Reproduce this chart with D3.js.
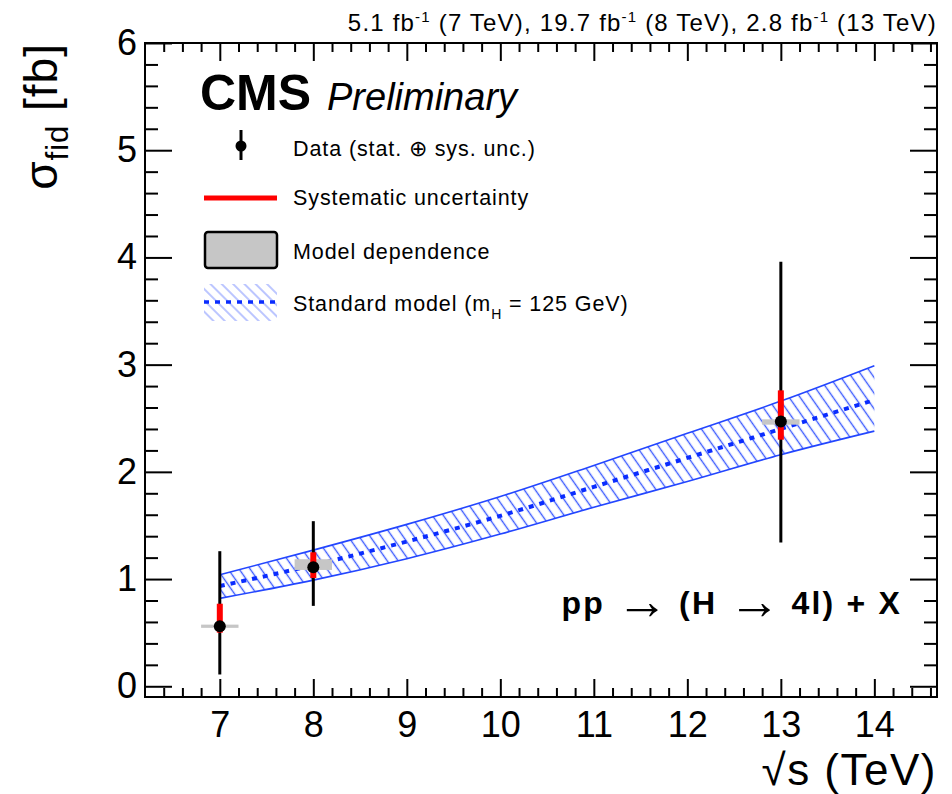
<!DOCTYPE html>
<html><head><meta charset="utf-8">
<script src="https://cdn.jsdelivr.net/npm/d3@7"></script>
<style>body{margin:0;background:#fff}svg{display:block;font-family:"Liberation Sans",Arial,Helvetica,sans-serif}</style>
</head><body><svg id="c" width="952" height="794"></svg>
<script>
// ---- data ----
const energies = [7, 8, 13];
const xsec     = [0.56, 1.11, 2.47];
const totHi    = [0.70, 0.43, 1.49];
const totLo    = [0.45, 0.36, 1.13];
const sysHi    = [0.21, 0.14, 0.29];
const sysLo    = [0.06, 0.10, 0.17];
const modelLo  = [0.545, 1.085, 2.44];
const modelHi  = [0.575, 1.185, 2.49];
const smEnergy  = [7, 8, 9, 10, 11, 12, 13, 14];
const smCentral = [0.935, 1.13, 1.35, 1.59, 1.86, 2.13, 2.40, 2.67];
const smLow     = [0.82, 0.99, 1.19, 1.42, 1.67, 1.91, 2.16, 2.38];
const smHigh    = [1.04, 1.27, 1.51, 1.77, 2.06, 2.36, 2.66, 2.99];
const xTicks = [7, 8, 9, 10, 11, 12, 13, 14];
const yTicks = [0, 1, 2, 3, 4, 5, 6];
const legendLabels = ["Data (stat. \u2295 sys. unc.)", "Systematic uncertainty", "Model dependence", "Standard model (m", "H", " = 125 GeV)"];
const lumiText = ["5.1 fb", "-1", " (7 TeV), 19.7 fb", "-1", " (8 TeV), 2.8 fb", "-1", " (13 TeV)"];
const processParts = ["pp ", "\u2192", " (H ", "\u2192", " 4l) + X"];

// ---- layout ----
const L = 145, R = 937, T = 43, B = 697;
const svg = d3.select("#c");
const x = d3.scaleLinear().domain([6.2, 14.67]).range([L, R]);
const y = d3.scaleLinear().domain([-0.1, 6.0]).range([B, T]);
const modelHalf = 0.2;

const defs = svg.append("defs");
const pat = defs.append("pattern").attr("id", "hatch").attr("patternUnits", "userSpaceOnUse")
  .attr("width", 9).attr("height", 9).attr("patternTransform", "rotate(-35)");
pat.append("line").attr("x1", 4.5).attr("x2", 4.5).attr("y1", 0).attr("y2", 9)
  .attr("stroke", "#3d5cff").attr("stroke-width", 1.4);
const pat2 = defs.append("pattern").attr("id", "hatchL").attr("patternUnits", "userSpaceOnUse")
  .attr("width", 8).attr("height", 8).attr("patternTransform", "rotate(-45)");
pat2.append("line").attr("x1", 4).attr("x2", 4).attr("y1", 0).attr("y2", 8)
  .attr("stroke", "#8fa0ff").attr("stroke-width", 1.2);

// ---- SM band ----
const sm = smEnergy.map((e, i) => ({e, c: smCentral[i], lo: smLow[i], hi: smHigh[i]}));
const curve = d3.curveMonotoneX;
svg.append("path").datum(sm)
  .attr("d", d3.area().x(d => x(d.e)).y0(d => y(d.lo)).y1(d => y(d.hi)).curve(curve))
  .attr("fill", "url(#hatch)");
["lo", "hi"].forEach(k => {
  svg.append("path").datum(sm)
    .attr("d", d3.line().x(d => x(d.e)).y(d => y(d[k])).curve(curve))
    .attr("fill", "none").attr("stroke", "#2346ff").attr("stroke-width", 1.6);
});
svg.append("path").datum(sm)
  .attr("d", d3.line().x(d => x(d.e)).y(d => y(d.c)).curve(curve))
  .attr("fill", "none").attr("stroke", "#0a2cff").attr("stroke-width", 4)
  .attr("stroke-dasharray", "5,6");

// ---- data points ----
const pts = energies.map((e, i) => ({e, v: xsec[i], th: totHi[i], tl: totLo[i], sh: sysHi[i], sl: sysLo[i], ml: modelLo[i], mh: modelHi[i]}));
svg.selectAll(".model").data(pts).enter().append("rect")
  .attr("x", d => x(d.e - modelHalf)).attr("width", d => x(d.e + modelHalf) - x(d.e - modelHalf))
  .attr("y", d => y(d.mh)).attr("height", d => Math.max(3, y(d.ml) - y(d.mh)))
  .attr("fill", "#c6c6c6");
svg.selectAll(".tot").data(pts).enter().append("line")
  .attr("x1", d => x(d.e)).attr("x2", d => x(d.e))
  .attr("y1", d => y(d.v + d.th)).attr("y2", d => y(d.v - d.tl))
  .attr("stroke", "#000").attr("stroke-width", 3);
svg.selectAll(".sys").data(pts).enter().append("line")
  .attr("x1", d => x(d.e)).attr("x2", d => x(d.e))
  .attr("y1", d => y(d.v + d.sh)).attr("y2", d => y(d.v - d.sl))
  .attr("stroke", "#ff0000").attr("stroke-width", 6);
svg.selectAll(".pt").data(pts).enter().append("circle")
  .attr("cx", d => x(d.e)).attr("cy", d => y(d.v)).attr("r", 6).attr("fill", "#000");

// ---- frame & ticks ----
const minorX = d3.range(6.4, 14.67, 0.2).map(v => +v.toFixed(1)).filter(v => Math.abs(v - Math.round(v)) > 1e-6);
const minorY = d3.range(0.2, 6, 0.2).map(v => +v.toFixed(1)).filter(v => Math.abs(v - Math.round(v)) > 1e-6);
const tickStyle = g => { g.select(".domain").remove(); g.selectAll(".tick line").attr("stroke", "#000").attr("stroke-width", 2); };

svg.append("g").attr("transform", `translate(0,${B})`)
  .call(d3.axisBottom(x).tickValues(xTicks).tickSize(-18).tickPadding(14).tickFormat(d3.format("d")))
  .call(tickStyle)
  .call(g => g.selectAll("text").attr("font-size", 36).attr("fill", "#000").attr("font-family", "Liberation Sans"));
svg.append("g").attr("transform", `translate(0,${B})`)
  .call(d3.axisBottom(x).tickValues(minorX).tickSize(-9).tickFormat("")).call(tickStyle);
svg.append("g").attr("transform", `translate(0,${T})`)
  .call(d3.axisTop(x).tickValues(xTicks).tickSize(-18).tickFormat("")).call(tickStyle);
svg.append("g").attr("transform", `translate(0,${T})`)
  .call(d3.axisTop(x).tickValues(minorX).tickSize(-9).tickFormat("")).call(tickStyle);

svg.append("g").attr("transform", `translate(${L},0)`)
  .call(d3.axisLeft(y).tickValues(yTicks).tickSize(-27).tickPadding(8).tickFormat(d3.format("d")))
  .call(tickStyle)
  .call(g => g.selectAll("text").attr("font-size", 36).attr("fill", "#000").attr("font-family", "Liberation Sans"));
svg.append("g").attr("transform", `translate(${L},0)`)
  .call(d3.axisLeft(y).tickValues(minorY).tickSize(-13).tickFormat("")).call(tickStyle);
svg.append("g").attr("transform", `translate(${R},0)`)
  .call(d3.axisRight(y).tickValues(yTicks).tickSize(-27).tickFormat("")).call(tickStyle);
svg.append("g").attr("transform", `translate(${R},0)`)
  .call(d3.axisRight(y).tickValues(minorY).tickSize(-13).tickFormat("")).call(tickStyle);

svg.append("rect").attr("x", L).attr("y", T).attr("width", R - L).attr("height", B - T)
  .attr("fill", "none").attr("stroke", "#000").attr("stroke-width", 2);

// ---- axis titles ----
svg.append("text").attr("x", R).attr("y", 785).attr("text-anchor", "end")
  .attr("font-size", 44).attr("letter-spacing", 1.5).text("\u221As (TeV)");
const yl = svg.append("text").attr("transform", "translate(57,43) rotate(-90)")
  .attr("text-anchor", "end").attr("font-size", 46).attr("letter-spacing", 1);
yl.append("tspan").text("\u03C3");
yl.append("tspan").attr("font-size", 31).attr("dy", 11).text("fid");
yl.append("tspan").attr("dy", -11).text(" [fb]");

// ---- lumi text ----
const lt = svg.append("text").attr("x", R).attr("y", 31).attr("text-anchor", "end")
  .attr("font-size", 24).attr("letter-spacing", 1.2);
lumiText.forEach((s, i) => {
  if (i % 2 === 1) lt.append("tspan").attr("font-size", 15).attr("dy", -9).text(s);
  else lt.append("tspan").attr("dy", i === 0 ? 0 : 9).text(s);
});

// ---- CMS labels ----
svg.append("text").attr("x", 200).attr("y", 110).attr("font-size", 50).attr("font-weight", "bold").text("CMS");
svg.append("text").attr("x", 327).attr("y", 110).attr("font-size", 38).attr("font-style", "italic").text("Preliminary");
const pt = svg.append("text").attr("x", 902).attr("y", 614).attr("text-anchor", "end").attr("font-size", 32)
  .attr("font-weight", "bold").attr("letter-spacing", 2.2).attr("xml:space", "preserve");
processParts.forEach((s, i) => {
  if (i % 2 === 1) pt.append("tspan").attr("font-size", 52).attr("font-weight", "normal").attr("dy", 5).attr("letter-spacing", 0).text(s);
  else pt.append("tspan").attr("dy", i === 0 ? 0 : -5).text(s);
});

// ---- legend ----
const lg = svg.append("g");
lg.append("line").attr("x1", 241).attr("x2", 241).attr("y1", 130).attr("y2", 160).attr("stroke", "#000").attr("stroke-width", 3);
lg.append("circle").attr("cx", 241).attr("cy", 146).attr("r", 5.5).attr("fill", "#000");
lg.append("line").attr("x1", 204).attr("x2", 277).attr("y1", 198).attr("y2", 198).attr("stroke", "#ff0000").attr("stroke-width", 5);
lg.append("rect").attr("x", 205).attr("y", 232).attr("width", 72).attr("height", 36).attr("rx", 3)
  .attr("fill", "#c6c6c6").attr("stroke", "#000").attr("stroke-width", 2.5);
lg.append("rect").attr("x", 204).attr("y", 284).attr("width", 73).attr("height", 37).attr("fill", "url(#hatchL)");
lg.append("line").attr("x1", 204).attr("x2", 277).attr("y1", 302).attr("y2", 302)
  .attr("stroke", "#0a2cff").attr("stroke-width", 3.5).attr("stroke-dasharray", "5,6");
const ly = [156, 205, 259, 311];
const lfs = 21.5, lls = 0.9;
lg.append("text").attr("x", 293).attr("y", ly[0]).attr("font-size", lfs).attr("letter-spacing", lls).text(legendLabels[0]);
lg.append("text").attr("x", 293).attr("y", ly[1]).attr("font-size", lfs).attr("letter-spacing", lls).text(legendLabels[1]);
lg.append("text").attr("x", 293).attr("y", ly[2]).attr("font-size", lfs).attr("letter-spacing", lls).text(legendLabels[2]);
const sl = lg.append("text").attr("x", 293).attr("y", ly[3]).attr("font-size", lfs).attr("letter-spacing", lls);
sl.append("tspan").text(legendLabels[3]);
sl.append("tspan").attr("font-size", 14).attr("dy", 8).text(legendLabels[4]);
sl.append("tspan").attr("dy", -8).text(legendLabels[5]);
</script></body></html>
